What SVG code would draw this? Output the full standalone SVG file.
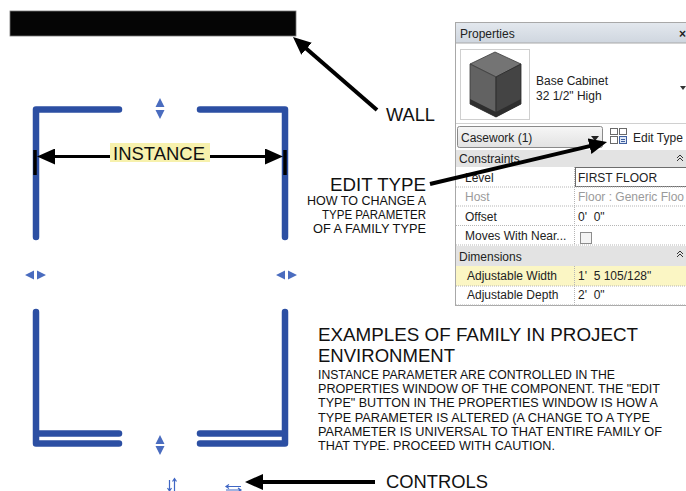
<svg xmlns="http://www.w3.org/2000/svg" width="686" height="491" viewBox="0 0 686 491">
  <style>
    .wall-blue { fill: none; stroke: #2c4fa3; stroke-width: 6.5; stroke-linecap: round; stroke-linejoin: round; }
    .grip { fill: #4a6cbf; }
    .lead { fill: none; stroke: #000; stroke-width: 4; marker-end: url(#head); }
    .dim { fill: none; stroke: #000; stroke-width: 3; marker-end: url(#head); }
    .tick { stroke: #000; stroke-width: 3.5; }
    .t { font-family: "Liberation Sans", Arial, Helvetica, sans-serif; fill: #111; }
    .ui { font-family: "Liberation Sans", Arial, sans-serif; font-size: 12px; fill: #222; }
    .ui-dim { fill: #9a9a9a; }
    .sep { stroke: #b5b5b5; stroke-width: 1; stroke-dasharray: 1 1; }
    .hdr { fill: #e3e3e3; }
    .ctl { fill: none; stroke: #3f66c4; stroke-width: 1.2; }
  </style>
  <defs>
    <marker id="head" markerUnits="userSpaceOnUse" markerWidth="18" markerHeight="16" refX="12" refY="8" orient="auto">
      <path d="M0,0 L18,8 L0,16 z" fill="#000"/>
    </marker>
    <linearGradient id="titlebar" x1="0" y1="0" x2="0" y2="1">
      <stop offset="0" stop-color="#e3e8ee"/>
      <stop offset="1" stop-color="#cfd6df"/>
    </linearGradient>
    <linearGradient id="combo" x1="0" y1="0" x2="0" y2="1">
      <stop offset="0" stop-color="#f6f6f6"/>
      <stop offset="1" stop-color="#e2e2e2"/>
    </linearGradient>
  </defs>

  <!-- wall -->
  <g id="wall">
    <rect x="10" y="11" width="286" height="25" fill="#050505" stroke="#777" stroke-width="0.8"/>
  </g>

  <!-- cabinet in plan -->
  <g id="cabinet">
    <path class="wall-blue" d="M119,109.5 H36 V237"/>
    <path class="wall-blue" d="M200,109.5 H285 V237"/>
    <path class="wall-blue" d="M36,312 V443.5 H119"/>
    <path class="wall-blue" d="M38,433.5 H119"/>
    <path class="wall-blue" d="M285,312 V443.5 H200"/>
    <path class="wall-blue" d="M283,433.5 H200"/>
  </g>

  <!-- grips -->
  <g id="grips">
    <path class="grip" d="M160,98 L164.5,107 L155.5,107 z M160,119 L164.5,110 L155.5,110 z"/>
    <path class="grip" d="M160,435 L164.5,444 L155.5,444 z M160,455 L164.5,446 L155.5,446 z"/>
    <path class="grip" d="M25,275 L34,270.5 L34,279.5 z M46,275 L37,270.5 L37,279.5 z"/>
    <path class="grip" d="M276,275 L285,270.5 L285,279.5 z M297,275 L288,270.5 L288,279.5 z"/>
  </g>

  <!-- flip controls -->
  <g id="flip-controls">
    <path class="ctl" d="M169.5,480 V491 M167.5,488 L169.5,491 L171.5,488"/>
    <path class="ctl" d="M174.5,478.5 V491 M172.5,481.5 L174.5,478.5 L176.5,481.5"/>
    <path class="ctl" d="M226,486.5 H241 M229,484.5 L226,486.5 L229,488.5"/>
    <path class="ctl" d="M226,490 H241 M238,488 L241,490 L238,492"/>
  </g>

  <!-- instance dimension -->
  <g id="instance">
    <line class="tick" x1="35" y1="150" x2="35" y2="175"/>
    <line class="tick" x1="285" y1="150" x2="285" y2="175"/>
    <rect x="110" y="143" width="100" height="19" fill="#f7f1ad"/>
    <text class="t" x="113" y="160" font-size="18" fill="#2d2d20" textLength="92" lengthAdjust="spacingAndGlyphs">INSTANCE</text>
  </g>

  <!-- properties palette -->
  <g id="properties">
    <rect x="455.5" y="22.5" width="240" height="283" fill="#fff" stroke="#a8a8a8"/>
    <rect x="455.5" y="22.5" width="240" height="20.5" fill="url(#titlebar)" stroke="#a8a8a8"/>
    <text class="ui" x="460" y="38" fill="#3a3a3a">Properties</text>
    <text class="ui" x="679" y="38" font-size="13" font-weight="bold" fill="#333">×</text>

    <!-- type preview -->
    <rect x="460.5" y="49.5" width="69" height="70" fill="#fff" stroke="#cfcfcf"/>
    <path d="M470,64 L495,52 L521,64 L496,77 z" fill="#747474" stroke="#3a3a3a" stroke-width="0.8"/>
    <path d="M470,64 L496,77 L496,117 L470,104 z" fill="#626262" stroke="#3a3a3a" stroke-width="0.8"/>
    <path d="M496,77 L521,64 L521,104 L496,117 z" fill="#444" stroke="#2a2a2a" stroke-width="0.8"/>
    <path d="M470,99 L496,112 L521,99 L521,104 L496,117 L470,104 z" fill="#2e2e2e"/>
    <text class="ui" x="536" y="85" fill="#333">Base Cabinet</text>
    <text class="ui" x="536" y="100" fill="#333">32 1/2" High</text>
    <path d="M680,86 L686,86 L683,90 z" fill="#333"/>
    <line x1="456" y1="123.5" x2="686" y2="123.5" stroke="#d0d0d0"/>

    <!-- type selector and edit type -->
    <rect x="457.5" y="126.5" width="145" height="21" rx="2" fill="url(#combo)" stroke="#8a8a8a"/>
    <text class="ui" x="461" y="142">Casework (1)</text>
    <path d="M591,136 L599,136 L595,141 z" fill="#222"/>
    <g fill="#fff" stroke="#6a6a6a" stroke-width="1">
      <rect x="610.5" y="128.5" width="7" height="6"/>
      <rect x="619.5" y="128.5" width="7" height="6"/>
      <rect x="610.5" y="136.5" width="7" height="7"/>
      <rect x="619.5" y="136.5" width="7" height="7" fill="#dfe8f6" stroke="#3f5f9f"/>
    </g>
    <line x1="621" y1="139.5" x2="625" y2="139.5" stroke="#3f5f9f"/>
    <line x1="621" y1="141.5" x2="625" y2="141.5" stroke="#3f5f9f"/>
    <text class="ui" x="633" y="142" font-size="12.5">Edit Type</text>

    <!-- constraints -->
    <rect class="hdr" x="456" y="150" width="230" height="17"/>
    <text class="ui" x="459" y="163">Constraints</text>
    <path d="M677,158 L680,155 L683,158 M677,161 L680,158 L683,161" fill="none" stroke="#333" stroke-width="1"/>

    <rect x="575.5" y="167.5" width="112" height="19" fill="#fff" stroke="#6d6d6d"/>
    <text class="ui" x="465" y="182">Level</text>
    <text class="ui" x="578" y="182">FIRST FLOOR</text>
    <line class="sep" x1="456" y1="187" x2="686" y2="187"/>

    <text class="ui ui-dim" x="465" y="201">Host</text>
    <text class="ui ui-dim" x="578" y="201" textLength="106" lengthAdjust="spacingAndGlyphs">Floor : Generic Floo</text>
    <line class="sep" x1="456" y1="206" x2="686" y2="206"/>

    <text class="ui" x="465" y="221">Offset</text>
    <text class="ui" x="578" y="221">0'&#160; 0"</text>
    <line class="sep" x1="456" y1="225.5" x2="686" y2="225.5"/>

    <text class="ui" x="465" y="240">Moves With Near...</text>
    <rect x="580.5" y="232.5" width="11" height="11" fill="#f4f4f4" stroke="#8d8d8d"/>
    <line class="sep" x1="456" y1="245" x2="686" y2="245"/>

    <!-- dimensions -->
    <rect class="hdr" x="456" y="246" width="230" height="20"/>
    <text class="ui" x="459" y="261">Dimensions</text>
    <path d="M677,254 L680,251 L683,254 M677,257 L680,254 L683,257" fill="none" stroke="#333" stroke-width="1"/>

    <rect x="456" y="266" width="230" height="20" fill="#fbf6c4"/>
    <text class="ui" x="467" y="280">Adjustable Width</text>
    <text class="ui" x="578" y="280">1'&#160; 5 105/128"</text>
    <line class="sep" x1="456" y1="286" x2="686" y2="286"/>

    <text class="ui" x="467" y="299">Adjustable Depth</text>
    <text class="ui" x="578" y="299">2'&#160; 0"</text>
    <line class="sep" x1="456" y1="305" x2="686" y2="305"/>

    <line class="sep" x1="574.5" y1="167" x2="574.5" y2="245"/>
    <line class="sep" x1="574.5" y1="266" x2="574.5" y2="305"/>
  </g>

  <!-- callout labels -->
  <g id="label-wall">
    <text class="t" x="386" y="121" font-size="19" textLength="49" lengthAdjust="spacingAndGlyphs">WALL</text>
  </g>
  <g id="label-edit-type">
    <text class="t" x="426" y="191" font-size="19" text-anchor="end" textLength="96" lengthAdjust="spacingAndGlyphs">EDIT TYPE</text>
    <text class="t" x="426" y="204.5" font-size="12" text-anchor="end" textLength="119" lengthAdjust="spacingAndGlyphs">HOW TO CHANGE A</text>
    <text class="t" x="426" y="218.5" font-size="12" text-anchor="end" textLength="104" lengthAdjust="spacingAndGlyphs">TYPE PARAMETER</text>
    <text class="t" x="426" y="233" font-size="12" text-anchor="end" textLength="113" lengthAdjust="spacingAndGlyphs">OF A FAMILY TYPE</text>
  </g>
  <g id="label-controls">
    <text class="t" x="386" y="488" font-size="18" textLength="102" lengthAdjust="spacingAndGlyphs">CONTROLS</text>
  </g>
  <g id="notes">
    <text class="t" x="318" y="341" font-size="18.5" textLength="320" lengthAdjust="spacingAndGlyphs">EXAMPLES OF FAMILY IN PROJECT</text>
    <text class="t" x="318" y="362" font-size="18.5" textLength="137" lengthAdjust="spacingAndGlyphs">ENVIRONMENT</text>
    <g font-size="13.2">
      <text class="t" x="318" y="379" textLength="297" lengthAdjust="spacingAndGlyphs">INSTANCE PARAMETER ARE CONTROLLED IN THE</text>
      <text class="t" x="318" y="393.2" textLength="342" lengthAdjust="spacingAndGlyphs">PROPERTIES WINDOW OF THE COMPONENT. THE "EDIT</text>
      <text class="t" x="318" y="407.4" textLength="340" lengthAdjust="spacingAndGlyphs">TYPE" BUTTON IN THE PROPERTIES WINDOW IS HOW A</text>
      <text class="t" x="318" y="421.6" textLength="332" lengthAdjust="spacingAndGlyphs">TYPE PARAMETER IS ALTERED (A CHANGE TO A TYPE</text>
      <text class="t" x="318" y="435.8" textLength="344" lengthAdjust="spacingAndGlyphs">PARAMETER IS UNIVERSAL TO THAT ENTIRE FAMILY OF</text>
      <text class="t" x="318" y="450" textLength="237" lengthAdjust="spacingAndGlyphs">THAT TYPE. PROCEED WITH CAUTION.</text>
    </g>
  </g>

  <!-- connectors -->
  <g id="connectors">
    <line class="dim" x1="110" y1="156.5" x2="43" y2="156.5"/>
    <line class="dim" x1="210" y1="156.5" x2="277" y2="156.5"/>
    <line class="lead" x1="377" y1="110" x2="297.5" y2="40.9"/>
    <line class="lead" x1="430" y1="184" x2="601.2" y2="143.4"/>
    <line class="lead" x1="375" y1="482" x2="251" y2="482"/>
  </g>
</svg>
